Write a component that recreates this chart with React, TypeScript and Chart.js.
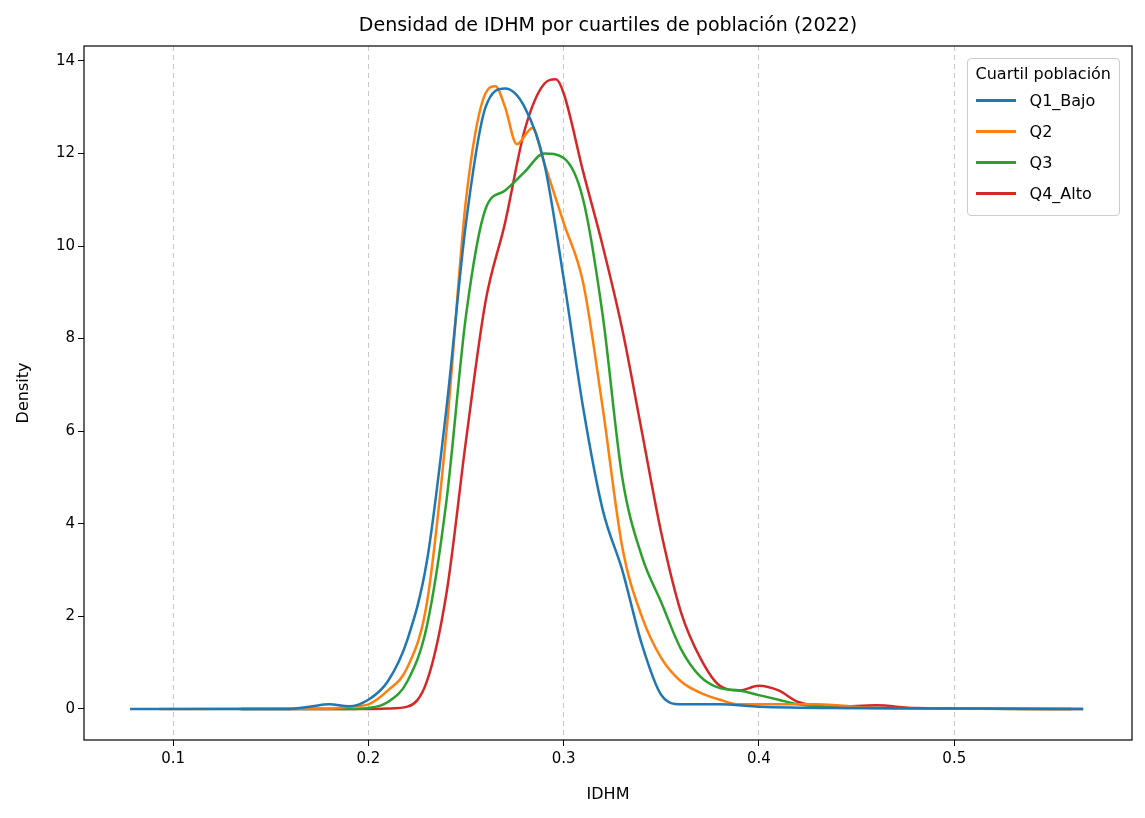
import { useEffect, useRef } from "react"
import { Chart, registerables } from "chart.js"

Chart.register(...registerables)

const q1X = [0.078, 0.16, 0.17, 0.18, 0.19, 0.2, 0.21, 0.22, 0.23, 0.24, 0.25, 0.26, 0.27, 0.28, 0.29, 0.3, 0.31, 0.32, 0.33, 0.34, 0.35, 0.36, 0.38, 0.4, 0.45, 0.566]
const q1Y = [0, 0, 0.05, 0.1, 0.06, 0.2, 0.6, 1.5, 3.2, 6.5, 10.5, 13, 13.4, 13, 11.8, 9.3, 6.5, 4.3, 3.0, 1.4, 0.3, 0.1, 0.1, 0.05, 0.02, 0]
const q2X = [0.093, 0.18, 0.19, 0.2, 0.21, 0.22, 0.23, 0.24, 0.25, 0.26, 0.265, 0.27, 0.276, 0.284, 0.29, 0.3, 0.31, 0.32, 0.33, 0.34, 0.35, 0.36, 0.37, 0.38, 0.39, 0.4, 0.43, 0.44, 0.46, 0.56]
const q2Y = [0, 0.01, 0.05, 0.1, 0.4, 0.9, 2.3, 6, 11, 13.3, 13.45, 13, 12.2, 12.55, 11.8, 10.5, 9.2, 6.5, 3.5, 2.0, 1.1, 0.6, 0.35, 0.2, 0.1, 0.1, 0.1, 0.08, 0.02, 0]
const q3X = [0.134, 0.19, 0.2, 0.21, 0.22, 0.23, 0.24, 0.25, 0.26, 0.27, 0.28, 0.29, 0.3, 0.31, 0.32, 0.33, 0.34, 0.35, 0.36, 0.37, 0.38, 0.39, 0.4, 0.41, 0.42, 0.43, 0.45, 0.56]
const q3Y = [0, 0, 0.02, 0.15, 0.6, 1.8, 4.5, 8.5, 10.8, 11.2, 11.6, 12, 11.9, 11, 8.5, 5, 3.3, 2.3, 1.3, 0.7, 0.45, 0.4, 0.3, 0.2, 0.1, 0.05, 0.02, 0]
const q4X = [0.135, 0.2, 0.21, 0.22, 0.23, 0.24, 0.25, 0.26, 0.27, 0.28, 0.29, 0.296, 0.3, 0.31, 0.32, 0.33, 0.34, 0.35, 0.36, 0.37, 0.38, 0.39, 0.4, 0.41, 0.42, 0.44, 0.46, 0.48, 0.566]
const q4Y = [0, 0, 0.01, 0.05, 0.6, 2.5, 5.8, 8.8, 10.5, 12.5, 13.5, 13.6, 13.3, 11.6, 10, 8.2, 6, 3.8, 2.1, 1.1, 0.5, 0.4, 0.5, 0.4, 0.15, 0.05, 0.08, 0.02, 0]

const seriesNames = ["Q1_Bajo", "Q2", "Q3", "Q4_Alto"]
const seriesColors = ["#1f77b4", "#ff7f0e", "#2ca02c", "#d62728"]
const xTicks = [0.1, 0.2, 0.3, 0.4, 0.5]
const yTicks = [0, 2, 4, 6, 8, 10, 12, 14]

const font = "'DejaVu Sans', sans-serif"

const frame = {
  id: "frame",
  afterDraw(chart: Chart) {
    const { ctx, chartArea: a } = chart
    ctx.save()
    ctx.strokeStyle = "#000"
    ctx.lineWidth = 1.2
    ctx.strokeRect(a.left, a.top, a.right - a.left, a.bottom - a.top)
    ctx.restore()
  },
}

export default function App() {
  const chartRef = useRef<HTMLCanvasElement>(null)

  useEffect(() => {
    document.body.style.margin = "0"
    if (!chartRef.current) return
    const ctx = chartRef.current.getContext("2d")
    if (!ctx) return

    const xs = [q1X, q2X, q3X, q4X]
    const ys = [q1Y, q2Y, q3Y, q4Y]

    const chart = new Chart(ctx, {
      type: "line",
      data: {
        datasets: seriesNames.map((name, i) => ({
          label: name,
          data: xs[i].map((x, j) => ({ x, y: ys[i][j] })),
          borderColor: seriesColors[i],
          borderWidth: 2.5,
          pointRadius: 0,
          cubicInterpolationMode: "monotone" as const,
          fill: false,
        })),
      },
      options: {
        animation: false,
        responsive: false,
        layout: { padding: { top: 46, right: 13, left: 14, bottom: 14 } },
        plugins: { legend: { display: false }, tooltip: { enabled: false } },
        scales: {
          x: {
            type: "linear",
            min: 0.0544,
            max: 0.591,
            afterBuildTicks: (s: any) => { s.ticks = xTicks.map((v) => ({ value: v })) },
            afterFit: (s: any) => { s.height = 64 },
            grid: { color: "#c8c8c8", tickColor: "#000", tickLength: 6, drawTicks: true },
            border: { display: false, dash: [5, 4] },
            ticks: { color: "#000", font: { family: font, size: 15 }, padding: 4 },
            title: { display: true, text: "IDHM", color: "#000", font: { family: font, size: 16 }, padding: 0 },
          },
          y: {
            min: -0.67,
            max: 14.32,
            afterBuildTicks: (s: any) => { s.ticks = yTicks.map((v) => ({ value: v })) },
            afterFit: (s: any) => { s.width = 70 },
            grid: { drawOnChartArea: false, tickColor: "#000", tickLength: 6 },
            border: { display: false },
            ticks: { color: "#000", font: { family: font, size: 15 } },
            title: { display: true, text: "Density", color: "#000", font: { family: font, size: 16 }, padding: 0 },
          },
        },
      },
      plugins: [frame],
    })

    return () => chart.destroy()
  }, [])

  return (
    <div style={{ position: "relative", width: 1145, height: 818, fontFamily: font }}>
      <canvas ref={chartRef} width={1145} height={818} />
      <div style={{ position: "absolute", left: 84, width: 1048, top: 13, textAlign: "center", fontSize: 19 }}>
        Densidad de IDHM por cuartiles de población (2022)
      </div>
      <div style={{ position: "absolute", right: 25, top: 58, border: "1px solid #ccc", borderRadius: 4, background: "rgba(255,255,255,0.85)", padding: "5px 8px 6px 8px", fontSize: 16 }}>
        <div style={{ textAlign: "center", marginBottom: 2 }}>Cuartil población</div>
        {seriesNames.map((n, i) => (
          <div key={n} style={{ display: "flex", alignItems: "center", height: 31 }}>
            <span style={{ display: "inline-block", width: 40, height: 3, background: seriesColors[i], marginRight: 14 }} />
            {n}
          </div>
        ))}
      </div>
    </div>
  )
}
